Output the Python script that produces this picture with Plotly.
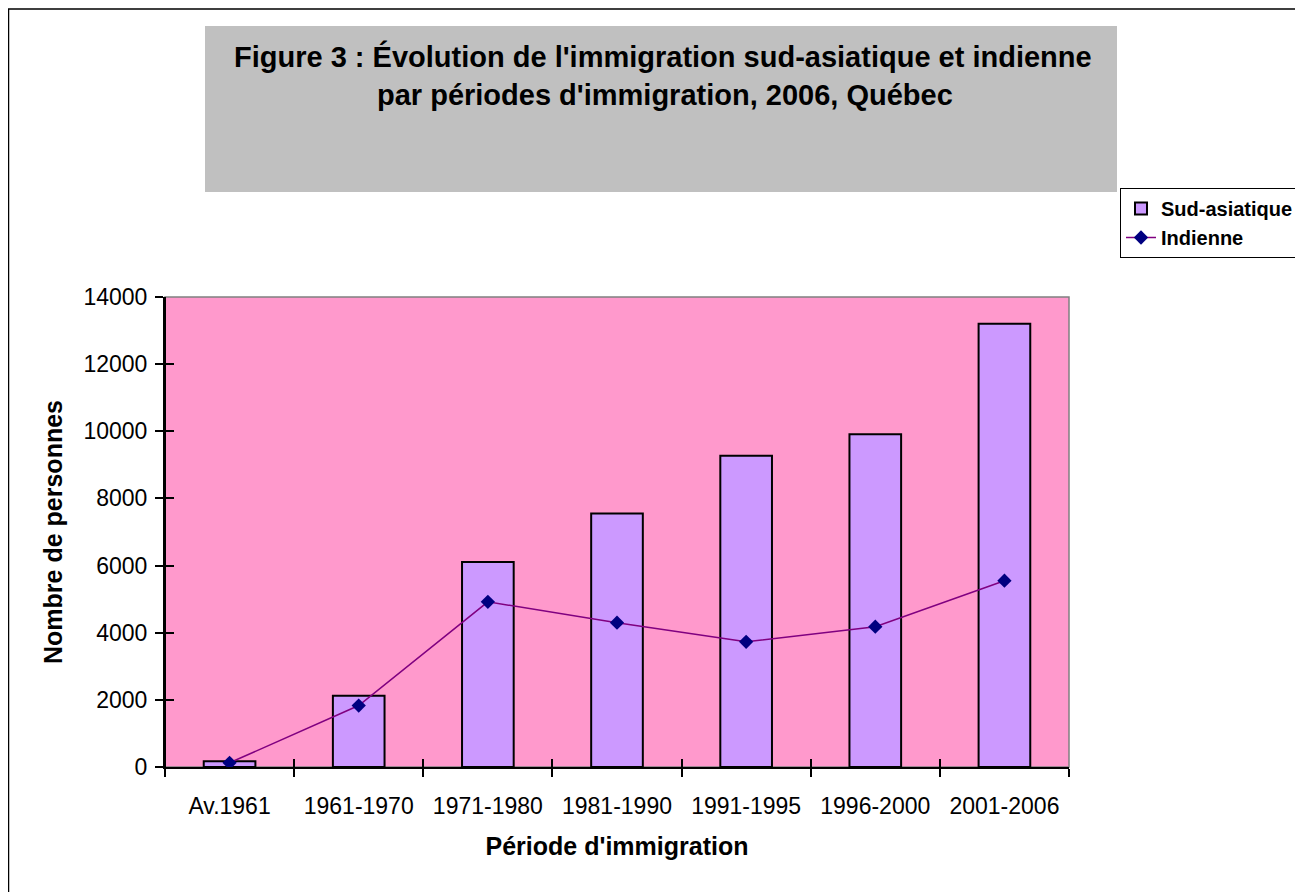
import plotly.graph_objects as go

periods = ["Av.1961", "1961-1970", "1971-1980", "1981-1990", "1991-1995", "1996-2000", "2001-2006"]
sud_asiatique = [170, 2120, 6110, 7550, 9270, 9910, 13200]
indienne = [125, 1830, 4920, 4300, 3730, 4180, 5550]

title_line1 = "Figure 3 : Évolution de l'immigration sud-asiatique et indienne"
title_line2 = "par périodes d'immigration, 2006, Québec"
x_title = "Période d'immigration"
y_title = "Nombre de personnes"

W, H = 1303, 892
OFF = 8  # page body margin
SL, SR, ST, SB = 165, 1069, 297, 767
L, R, T, B = SL - OFF, SR - OFF, ST - OFF, SB - OFF
FONT = "Liberation Sans, Arial, sans-serif"
Y_RANGE = [0, 14000]
X_RANGE = [-0.5, len(periods) - 0.5]

def px(xs):
    return (xs - SL) / (SR - SL)

def py(ys):
    return (SB - ys) / (SB - ST)

fig = go.Figure()
fig.add_trace(go.Bar(
    x=periods, y=sud_asiatique, name="Sud-asiatique",
    marker=dict(color="#CC99FF", line=dict(color="black", width=2)),
    width=0.4,
))
fig.add_trace(go.Scatter(
    x=periods, y=indienne, name="Indienne", mode="lines+markers",
    line=dict(color="#800080", width=1.5),
    marker=dict(symbol="diamond", size=11, color="#000080"),
))
# invisible traces carrying overlay axes that draw the inner half of the crossing ticks
fig.add_trace(go.Scatter(
    x=periods, y=indienne, xaxis="x2", yaxis="y", mode="markers",
    marker=dict(opacity=0), showlegend=False, hoverinfo="skip",
))
fig.add_trace(go.Scatter(
    x=periods, y=indienne, xaxis="x", yaxis="y2", mode="markers",
    marker=dict(opacity=0), showlegend=False, hoverinfo="skip",
))

fig.update_layout(
    width=W, height=H,
    margin=dict(l=L, r=W - R, t=T, b=H - B, pad=0),
    paper_bgcolor="white",
    plot_bgcolor="#FF99CC",
    font=dict(family=FONT, color="black", size=20),
    showlegend=True,
    legend=dict(
        x=px(1120), y=py(188), xanchor="left", yanchor="top",
        bordercolor="black", borderwidth=1, bgcolor="white",
        font=dict(family=FONT, size=20, color="black", weight="bold"),
        tracegroupgap=0, itemwidth=30,
    ),
    xaxis=dict(
        type="category", tickson="boundaries", ticks="outside", ticklen=8,
        tickwidth=1.5, tickcolor="black", ticklabelstandoff=17,
        showline=True, linecolor="black", linewidth=2, showgrid=False,
        tickfont=dict(size=23, family=FONT),
        title=dict(text=x_title, font=dict(size=25, family=FONT, weight="bold"), standoff=20),
        range=X_RANGE,
    ),
    yaxis=dict(
        range=Y_RANGE, dtick=2000, tickformat="d", ticks="outside", ticklen=8,
        tickwidth=1.5, tickcolor="black", ticklabelstandoff=3,
        showline=True, linecolor="black", linewidth=2, showgrid=False,
        tickfont=dict(size=23, family=FONT), zeroline=False,
        title=dict(text=y_title, font=dict(size=25, family=FONT, weight="bold"), standoff=14),
    ),
    xaxis2=dict(
        type="category", overlaying="x", anchor="y", side="bottom",
        categoryorder="array", categoryarray=periods, range=X_RANGE,
        tickson="boundaries", ticks="inside", ticklen=8, tickwidth=1.5, tickcolor="black",
        showticklabels=False, showgrid=False, showline=False, zeroline=False,
    ),
    yaxis2=dict(
        overlaying="y", anchor="free", position=0, side="left",
        range=Y_RANGE, tickmode="linear", tick0=0, dtick=2000,
        ticks="inside", ticklen=8, tickwidth=1.5, tickcolor="black",
        showticklabels=False, showgrid=False, showline=True, linecolor="black",
        linewidth=2, zeroline=False,
    ),
    bargap=0.6,
)

shapes = [
    dict(type="rect", xref="paper", yref="paper",
         x0=px(OFF + 0.5), x1=px(1320), y0=py(920), y1=py(9),
         line=dict(color="black", width=1.5), fillcolor="rgba(0,0,0,0)", layer="below"),
    dict(type="rect", xref="paper", yref="paper",
         x0=px(205), x1=px(1117), y0=py(192), y1=py(26),
         line=dict(width=0), fillcolor="#C0C0C0", layer="below"),
    dict(type="rect", xref="x domain", yref="y domain", x0=0, x1=1, y0=0, y1=1,
         line=dict(color="#808080", width=1.5), layer="below"),
]
fig.update_layout(shapes=shapes)

fig.add_annotation(text=title_line1, x=px(663), y=py(56), xref="paper", yref="paper",
                   showarrow=False, xanchor="center", yanchor="middle",
                   font=dict(size=29, family=FONT, weight="bold"))
fig.add_annotation(text=title_line2, x=px(665), y=py(95), xref="paper", yref="paper",
                   showarrow=False, xanchor="center", yanchor="middle",
                   font=dict(size=29, family=FONT, weight="bold"))

fig.write_html("out.html")
